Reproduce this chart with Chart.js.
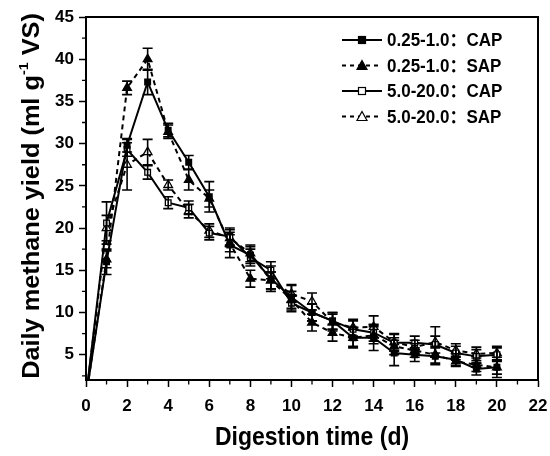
<!DOCTYPE html>
<html><head><meta charset="utf-8">
<script src="https://cdn.jsdelivr.net/npm/chart.js@4/dist/chart.umd.min.js"></script>
<style>html,body{margin:0;padding:0;background:#fff}</style>
</head><body>
<canvas id="c" width="550" height="456"></canvas>
<script>
const days = [0,1,2,3,4,5,6,7,8,9,10,11,12,13,14,15,16,17,18,19,20];
const seriesNames = ['0.25-1.0\uFF1ACAP','0.25-1.0\uFF1ASAP','5.0-20.0\uFF1ACAP','5.0-20.0\uFF1ASAP'];
const cap025 = [0,16.0,29.8,37.3,31.6,27.8,23.7,18.0,16.8,14.0,11.8,10.0,9.0,7.0,7.0,5.2,5.0,4.8,4.4,3.3,3.5];
const sap025 = [0,16.3,36.6,40.0,31.4,25.7,23.5,18.2,14.0,13.8,11.5,8.8,7.6,7.0,7.3,6.0,5.5,5.0,4.2,3.8,3.5];
const cap520 = [0,20.6,29.3,26.6,23.0,22.4,19.4,19.0,16.5,15.0,11.1,10.0,9.0,8.0,7.6,6.4,6.4,6.2,5.2,4.8,5.0];
const sap520 = [0,20.0,27.5,29.0,25.1,22.0,19.7,18.8,17.0,13.8,12.2,11.3,8.8,8.2,8.3,6.5,5.9,6.5,5.5,5.1,5.2];
const errCap025 = [0,1.5,0.8,1.5,0.8,0.8,1.8,1.5,1.0,1.5,1.5,1.0,1.0,1.2,1.5,1.5,0.8,1.0,0.7,0.7,1.2];
const errSap025 = [0,1.0,0.8,1.3,0.8,1.2,1.0,1.0,1.0,1.0,1.0,1.0,1.0,1.0,1.0,1.0,0.8,1.0,0.6,0.8,0.8];
const errCap520 = [0,2.5,0.8,0.8,0.7,0.8,0.8,1.0,1.0,1.0,1.0,1.0,1.0,1.0,1.0,1.0,0.8,1.0,0.8,0.8,0.8];
const errSap520 = [0,1.5,3.0,1.5,0.6,0.8,0.8,1.0,1.0,1.0,1.0,1.0,1.0,1.0,1.3,1.0,0.8,1.8,0.8,0.8,0.8];
const xTickValues = [0,2,4,6,8,10,12,14,16,18,20,22];
const yTickValues = [5,10,15,20,25,30,35,40,45];
const xMinorValues = [1,3,5,7,9,11,13,15,17,19,21];
const yMinorValues = [2.5,7.5,12.5,17.5,22.5,27.5,32.5,37.5,42.5];

const FONT = "'Liberation Sans', Arial, 'Noto Sans CJK SC', sans-serif";
const pr = days.map((d,i)=> i===0 ? 0 : 4);
const prTri = days.map((d,i)=> i===0 ? 0 : 5);

function mk(label, vals, style, fill, dashed, errs, r){
  return {
    label, data: days.map((d,i)=>({x:d, y:vals[i]})), errs,
    borderColor:'#000', borderWidth:2, borderDash: dashed?[5,4]:[],
    pointStyle: style, pointRadius: r, pointBackgroundColor: fill, pointBorderColor:'#000',
    pointBorderWidth:1.3, tension:0, fill:false
  };
}
const datasets = [
  mk(seriesNames[0], cap025, 'rect', '#000', false, errCap025, pr),
  mk(seriesNames[1], sap025, 'triangle', '#000', true, errSap025, prTri),
  mk(seriesNames[2], cap520, 'rect', '#fff', false, errCap520, pr),
  mk(seriesNames[3], sap520, 'triangle', '#fff', true, errSap520, prTri)
];

const extras = {
  id:'extras',
  afterDatasetsDraw(chart){
    const ctx = chart.ctx, ys = chart.scales.y;
    ctx.save();
    ctx.strokeStyle='#000'; ctx.lineWidth=1.6; ctx.setLineDash([]);
    chart.data.datasets.forEach((ds,i)=>{
      const meta = chart.getDatasetMeta(i);
      ds.data.forEach((p,j)=>{
        if(j===0) return;
        const e = ds.errs[j];
        const x = meta.data[j].x;
        const yt = ys.getPixelForValue(p.y+e), yb = ys.getPixelForValue(p.y-e);
        ctx.beginPath();
        ctx.moveTo(x,yt); ctx.lineTo(x,yb);
        ctx.moveTo(x-5,yt); ctx.lineTo(x+5,yt);
        ctx.moveTo(x-5,yb); ctx.lineTo(x+5,yb);
        ctx.stroke();
      });
    });
    ctx.restore();
  },
  afterDraw(chart){
    const ctx = chart.ctx, a = chart.chartArea, xs = chart.scales.x, ys = chart.scales.y;
    ctx.save();
    ctx.strokeStyle='#000'; ctx.lineWidth=2; ctx.setLineDash([]);
    ctx.strokeRect(a.left, a.top, a.right-a.left, a.bottom-a.top);
    ctx.lineWidth=1.3;
    ctx.beginPath();
    xMinorValues.forEach(v=>{const x=xs.getPixelForValue(v); ctx.moveTo(x,a.bottom); ctx.lineTo(x,a.bottom+4.5);});
    yMinorValues.forEach(v=>{const y=ys.getPixelForValue(v); ctx.moveTo(a.left,y); ctx.lineTo(a.left-4,y);});
    ctx.stroke();
    // axis titles
    ctx.fillStyle='#000';
    ctx.font = "bold 23px " + FONT;
    ctx.textAlign='center'; ctx.textBaseline='middle';
    ctx.save();
    ctx.translate(312, 438); ctx.scale(1,1.1);
    ctx.fillText('Digestion time (d)', 0, 0);
    ctx.restore();
    ctx.save();
    ctx.translate(33, 196); ctx.rotate(-Math.PI/2); ctx.scale(1.1,1);
    const p1='Daily methane yield (ml g', p2='-1', p3=' VS)';
    ctx.font = "bold 23px " + FONT; const w1 = ctx.measureText(p1).width, w3 = ctx.measureText(p3).width;
    ctx.font = "bold 13px " + FONT; const w2 = ctx.measureText(p2).width;
    let x0 = -(w1+w2+w3)/2;
    ctx.textAlign='left';
    ctx.font = "bold 23px " + FONT; ctx.fillText(p1, x0, 0);
    ctx.font = "bold 13px " + FONT; ctx.fillText(p2, x0+w1, -9);
    ctx.font = "bold 23px " + FONT; ctx.fillText(p3, x0+w1+w2, 0);
    ctx.restore();
    // legend
    const rows=[40,65.5,91,116.5];
    chart.data.datasets.forEach((ds,i)=>{
      const y=rows[i];
      ctx.save();
      ctx.strokeStyle='#000'; ctx.lineWidth=1.8;
      ctx.setLineDash(ds.borderDash.length?[4,4]:[]);
      ctx.beginPath(); ctx.moveTo(342,y); ctx.lineTo(382,y); ctx.stroke();
      ctx.setLineDash([]);
      ctx.fillStyle = ds.pointBackgroundColor; ctx.lineWidth=1.2;
      if(ds.pointStyle==='rect'){
        ctx.fillRect(358.5,y-3.5,7,7); ctx.strokeRect(358.5,y-3.5,7,7);
      } else {
        ctx.beginPath(); ctx.moveTo(362,y-5); ctx.lineTo(367,y+4); ctx.lineTo(357,y+4); ctx.closePath();
        ctx.fill(); ctx.stroke();
      }
      ctx.fillStyle='#000';
      ctx.font="bold 17px " + FONT; ctx.textAlign='left'; ctx.textBaseline='middle';
      ctx.translate(387,y+1); ctx.scale(1,1.08);
      ctx.fillText(ds.label, 0, 0);
      ctx.restore();
    });
    ctx.restore();
  }
};

new Chart(document.getElementById('c'), {
  type:'line',
  data:{ datasets },
  options:{
    responsive:false, animation:false,
    layout:{ padding:{ top:17, right:12, left:0, bottom:0 } },
    plugins:{ legend:{display:false}, tooltip:{enabled:false} },
    scales:{
      x:{ type:'linear', min:0, max:22,
        afterBuildTicks:(s)=>{ s.ticks = xTickValues.map(v=>({value:v})); },
        afterFit:(s)=>{ s.height = 76; s.paddingLeft = 0; s.paddingRight = 0; },
        grid:{ drawOnChartArea:false, tickLength:7, tickColor:'#000', tickWidth:1.5 },
        border:{ display:true, color:'#000', width:2 },
        ticks:{ color:'#000', padding:9, maxRotation:0, autoSkip:false, font:{ family:FONT, size:17, weight:'bold' } }
      },
      y:{ type:'linear', min:2, max:45,
        afterBuildTicks:(s)=>{ s.ticks = yTickValues.map(v=>({value:v})); },
        afterFit:(s)=>{ s.width = 86; s.paddingTop = 0; s.paddingBottom = 0; },
        grid:{ drawOnChartArea:false, tickLength:7, tickColor:'#000', tickWidth:1.5 },
        border:{ display:true, color:'#000', width:2 },
        ticks:{ color:'#000', padding:5, autoSkip:false, font:{ family:FONT, size:17, weight:'bold' } }
      }
    }
  },
  plugins:[extras]
});
</script>
</body></html>
